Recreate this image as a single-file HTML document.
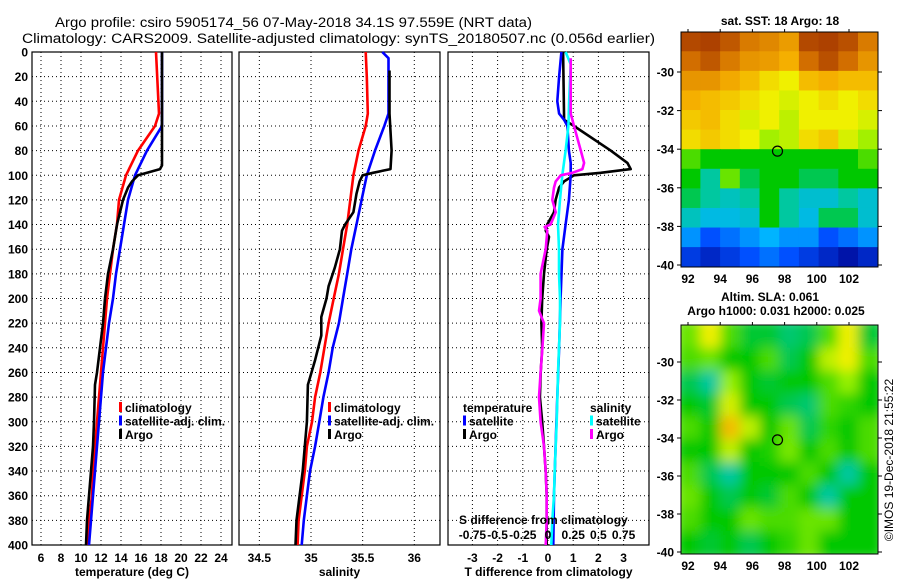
<!DOCTYPE html>
<html><head><meta charset="utf-8"><style>
html,body{margin:0;padding:0;background:#fff;}
svg{display:block;font-family:"Liberation Sans",Arial,sans-serif;}
.tk{font-size:12px;font-weight:bold;fill:#000;}
.ttl{font-size:13.5px;fill:#000;}
</style></head><body>
<svg id="fig" width="900" height="580" viewBox="0 0 900 580" xmlns="http://www.w3.org/2000/svg">
<rect width="900" height="580" fill="#fff"/>
<text class="ttl" x="55" y="27" textLength="477" lengthAdjust="spacingAndGlyphs">Argo profile: csiro 5905174_56 07-May-2018 34.1S 97.559E (NRT data)</text>
<text class="ttl" x="22" y="43" textLength="633" lengthAdjust="spacingAndGlyphs">Climatology: CARS2009. Satellite-adjusted climatology: synTS_20180507.nc (0.056d earlier)</text>
<g id="g"></g>
</svg>
<script>
// ---- data ----
const depthTicks = [0,20,40,60,80,100,120,140,160,180,200,220,240,260,280,300,320,340,360,380,400];
const tempTicks = [6,8,10,12,14,16,18,20,22,24];
const salTicks = [34.5,35,35.5,36];
const diffTTicks = [-3,-2,-1,0,1,2,3];
const diffSLabels = ["-0.75","-0.5","-0.25","0","0.25","0.5","0.75"];

const tClimDepth = [0,50,60,80,100,120,140,160,180,200,220,240,260,280,300,320,340,360,380,400];
const tClimVal   = [17.5,17.8,17.4,15.7,14.5,13.8,13.6,13.2,12.9,12.6,12.4,12.2,12.0,11.8,11.6,11.4,11.2,11.1,10.8,10.7];
const tSatDepth = [0,55,60,80,100,120,140,160,180,200,220,240,260,280,300,320,340,360,380,400];
const tSatVal   = [18.1,18.1,18.1,16.6,15.4,14.7,14.3,13.9,13.5,13.2,12.8,12.5,12.2,12.0,11.8,11.6,11.4,11.2,11.0,10.8];
const tArgoDepth = [0,92,95,98,100,105,110,120,140,160,180,200,220,240,260,270,300,320,340,360,380,400];
const tArgoVal   = [18.1,18.1,17.9,16.6,15.7,15.1,14.7,14.2,13.6,13.2,12.7,12.4,12.2,11.9,11.6,11.4,11.3,11.2,11.0,10.8,10.6,10.5];

const sClimDepth = [0,20,50,60,80,100,120,140,160,180,200,220,240,260,280,300,320,340,360,380,400];
const sClimVal   = [35.53,35.54,35.55,35.53,35.46,35.41,35.38,35.35,35.31,35.27,35.22,35.17,35.13,35.09,35.04,35.01,34.96,34.94,34.91,34.88,34.87];
const sSatDepth = [0,5,50,60,80,100,120,140,160,180,200,220,240,260,280,300,320,340,360,380,400];
const sSatVal   = [35.69,35.75,35.75,35.71,35.62,35.54,35.49,35.44,35.39,35.35,35.31,35.27,35.21,35.17,35.12,35.08,35.04,34.99,34.96,34.93,34.91];
const sArgoDepth = [15,50,80,95,98,100,105,115,130,140,145,160,175,190,200,215,230,250,270,300,320,340,360,380,400];
const sArgoVal   = [35.76,35.76,35.78,35.77,35.60,35.50,35.47,35.44,35.41,35.33,35.30,35.28,35.23,35.17,35.15,35.10,35.10,35.04,34.97,34.96,34.94,34.92,34.89,34.86,34.85];

const dTSatDepth = [0,20,40,50,55,60,80,90,100,120,140,160,200,240,280,320,360,400];
const dTSatVal   = [0.53,0.44,0.37,0.44,0.64,0.77,0.83,0.9,0.9,0.83,0.70,0.57,0.50,0.44,0.37,0.30,0.24,0.21];
const dTArgoDepth = [0,55,60,80,90,95,98,100,105,110,120,130,140,145,150,160,180,200,220,240,260,280,300,320,340,360,380,400];
const dTArgoVal   = [0.6,0.64,1.03,2.49,3.15,3.28,2.09,1.03,0.64,0.44,0.30,0.24,-0.03,-0.09,0.04,-0.05,-0.16,-0.23,-0.26,-0.23,-0.29,-0.32,-0.23,-0.16,-0.09,-0.05,-0.05,-0.05];
const dSSatDepth = [0,10,40,60,80,100,120,140,160,180,200,220,240,260,280,300,320,340,360,380,400];
const dSSatVal   = [0.175,0.225,0.209,0.202,0.175,0.142,0.119,0.099,0.109,0.109,0.119,0.119,0.109,0.099,0.093,0.086,0.076,0.066,0.060,0.043,0.033];
const dSArgoDepth = [5,50,55,60,80,90,95,98,100,105,110,120,130,140,142,145,160,180,200,210,220,240,260,280,300,320,340,360,380,400];
const dSArgoVal   = [0.225,0.225,0.242,0.258,0.325,0.358,0.341,0.242,0.126,0.076,0.060,0.043,0.076,0.026,-0.033,-0.007,-0.023,-0.073,-0.073,-0.089,-0.040,-0.056,-0.073,-0.089,-0.073,-0.040,-0.023,-0.013,-0.013,-0.023];

const latTicks = [-30,-32,-34,-36,-38,-40];
const lonTicks = [92,94,96,98,100,102];
const sstGrid = [
[.97,.98,.95,.9,.88,.85,.97,.98,.96,.9],
[.92,.95,.9,.86,.85,.82,.92,.96,.92,.86],
[.86,.86,.83,.8,.75,.72,.8,.82,.8,.8],
[.82,.8,.78,.75,.72,.7,.72,.75,.72,.75],
[.78,.8,.75,.7,.72,.68,.72,.72,.72,.7],
[.75,.78,.75,.72,.66,.68,.75,.78,.7,.66],
[.6,.55,.55,.55,.55,.55,.55,.55,.55,.6],
[.55,.45,.62,.5,.55,.55,.5,.5,.55,.55],
[.5,.45,.42,.45,.55,.45,.4,.4,.45,.4],
[.42,.38,.38,.4,.55,.45,.38,.5,.5,.4],
[.3,.2,.25,.3,.35,.3,.3,.2,.25,.3],
[.15,.1,.15,.2,.25,.2,.15,.1,.05,.1]];
const slaGrid = [
[.62,.72,.6,.52,.52,.48,.5,.6,.72,.52],
[.6,.62,.55,.55,.6,.5,.55,.68,.72,.6],
[.5,.45,.65,.55,.52,.55,.55,.6,.65,.55],
[.55,.52,.7,.55,.55,.5,.48,.6,.58,.55],
[.6,.55,.8,.68,.55,.62,.5,.58,.55,.6],
[.55,.55,.68,.55,.57,.63,.55,.6,.55,.6],
[.6,.5,.45,.55,.55,.55,.6,.55,.45,.55],
[.62,.55,.5,.55,.52,.6,.55,.45,.55,.55],
[.6,.55,.55,.62,.6,.6,.62,.62,.55,.55],
[.55,.52,.55,.5,.55,.58,.62,.55,.55,.55]];
const argoLon = 97.559, argoLat = -34.1;

// ---- helpers ----
const NS = "http://www.w3.org/2000/svg";
const G = document.getElementById('g');
function mk(tag, attrs, parent){ const e=document.createElementNS(NS,tag); for(const k in attrs) e.setAttribute(k,attrs[k]); (parent||G).appendChild(e); return e; }
const Y0=52, Y1=545;
const yD = d => Y0 + d/400*(Y1-Y0);

function panel(name, x0, x1, xs, ticks, labels, xtitle){
  const g = mk('g',{});
  
  
  depthTicks.forEach(d=>{ if(d>0&&d<400) mk('line',{x1:x0,x2:x1,y1:yD(d),y2:yD(d),stroke:'#000','stroke-width':1,'stroke-dasharray':'1,3'},g); });
  ticks.forEach(t=>{ const x=xs(t); mk('line',{x1:x,x2:x,y1:Y0,y2:Y1,stroke:'#000','stroke-width':1,'stroke-dasharray':'1,3'},g);
    const tl=mk('text',{x:x,y:562,'text-anchor':'middle','class':'tk'},g); tl.textContent=labels?labels(t):t;
    
     });
  mk('rect',{x:x0,y:Y0,width:x1-x0,height:Y1-Y0,fill:'none',stroke:'#000','stroke-width':1.2},g);
  const tt=mk('text',{x:(x0+x1)/2,y:576,'text-anchor':'middle','class':'tk'},g); tt.textContent=xtitle;
  
  
  return g;
}
function series(name, depths, vals, xs, color, g){
  const pts = depths.map((d,i)=> xs(vals[i]).toFixed(1)+','+yD(d).toFixed(1)).join(' ');
  const p = mk('polyline',{points:pts,fill:'none',stroke:color,'stroke-width':2.6,'stroke-linejoin':'round'},g);
  
  
}
function legend(items, x, y0, g){
  items.forEach((it,i)=>{ const y=y0+i*13.5;
    if(it.c) mk('rect',{x:x,y:y-6,width:3,height:10,fill:it.c},g);
    const t=mk('text',{x:x+(it.c?6:0),y:y+4,'class':'tk'},g); t.textContent=it.t;
    
     });
}

// depth axis labels
depthTicks.forEach(d=>{ const t=mk('text',{x:28,y:yD(d)+4.5,'text-anchor':'end','class':'tk'}); t.textContent=d;
  
   });

// panel 1 temperature
const xT = v => 41 + (v-6)*10;
const p1 = panel('temperature-panel', 32, 232, xT, tempTicks, null, 'temperature (deg C)');
series('temp-climatology-line', tClimDepth, tClimVal, xT, '#f00', p1);
series('temp-satellite-line', tSatDepth, tSatVal, xT, '#00f', p1);
series('temp-argo-line', tArgoDepth, tArgoVal, xT, '#000', p1);
legend([{t:'climatology',c:'#f00'},{t:'satellite-adj. clim.',c:'#00f'},{t:'Argo',c:'#000'}], 119, 408, p1);

// panel 2 salinity
const xS = v => 311 + (v-35)*103.3;
const p2 = panel('salinity-panel', 239, 440, xS, salTicks, null, 'salinity');
series('sal-climatology-line', sClimDepth, sClimVal, xS, '#f00', p2);
series('sal-satellite-line', sSatDepth, sSatVal, xS, '#00f', p2);
series('sal-argo-line', sArgoDepth, sArgoVal, xS, '#000', p2);
legend([{t:'climatology',c:'#f00'},{t:'satellite-adj. clim.',c:'#00f'},{t:'Argo',c:'#000'}], 328, 408, p2);

// panel 3 differences
const xDT = v => 548 + v*25.2;
const xDS = v => 548 + v*4*25.2;
const p3 = panel('difference-panel', 448, 649, xDT, diffTTicks, null, 'T difference from climatology');
series('dtemp-argo-line', dTArgoDepth, dTArgoVal, xDT, '#000', p3);
series('dtemp-satellite-line', dTSatDepth, dTSatVal, xDT, '#00f', p3);
series('dsal-satellite-line', dSSatDepth, dSSatVal, xDS, '#0ff', p3);
series('dsal-argo-line', dSArgoDepth, dSArgoVal, xDS, '#f0f', p3);
legend([{t:'temperature'},{t:'satellite',c:'#00f'},{t:'Argo',c:'#000'}], 463, 408, p3);
legend([{t:'salinity'},{t:'satellite',c:'#0ff'},{t:'Argo',c:'#f0f'}], 590, 408, p3);
const sdt = mk('text',{x:459,y:524,'class':'tk'},p3); sdt.textContent='S difference from climatology';


diffTTicks.forEach((t,i)=>{ const l=mk('text',{x:xDT(t),y:539,'text-anchor':'middle','class':'tk'},p3); l.textContent=diffSLabels[i];
  
   });

// colormap
const cstops = [[0,[0,0,140]],[0.2,[0,80,255]],[0.35,[0,180,255]],[0.45,[0,200,160]],[0.55,[0,200,0]],[0.65,[150,240,0]],[0.72,[240,240,0]],[0.82,[245,175,0]],[0.92,[210,110,0]],[1,[160,50,0]]];
function cmap(v){ for(let i=1;i<cstops.length;i++){ if(v<=cstops[i][0]){ const a=cstops[i-1],b=cstops[i],f=(v-a[0])/(b[0]-a[0]); const c=a[1].map((x,k)=>Math.round(x+(b[1][k]-x)*f)); return 'rgb('+c.join(',')+')'; } } return 'rgb(160,50,0)'; }

function map(name, grid, x0, x1, yTop, yBot, latY, latS, blur){
  const g = mk('g',{});
  
  
  const cid = name+'-clip';
  const cp = mk('clipPath',{id:cid},g); mk('rect',{x:x0,y:yTop,width:x1-x0,height:yBot-yTop},cp);
  const inner = mk('g',{'clip-path':'url(#'+cid+')'},g);
  const img = mk('g',blur?{filter:'url(#blur)'}:{},inner);
  const rows=grid.length, cols=grid[0].length, cw=(x1-x0)/cols, ch=(yBot-yTop)/rows;
  grid.forEach((row,r)=>row.forEach((v,c)=>{ const cell=mk('rect',{x:x0+c*cw-0.3-(blur?6*(c==0):0),y:yTop+r*ch-0.3-(blur?6*(r==0):0),width:cw+0.6+(blur?6*(c==0||c==cols-1):0),height:ch+0.6+(blur?6*(r==0||r==rows-1):0),fill:cmap(v)},img);
    
     }));
  const lonX = l => 688 + (l-92)*16.1;
  const latYf = l => latY + (-30-l)*latS;
  mk('circle',{cx:lonX(argoLon),cy:latYf(argoLat),r:5,fill:'none',stroke:'#000','stroke-width':1.2},g);
  mk('rect',{x:x0,y:yTop,width:x1-x0,height:yBot-yTop,fill:'none',stroke:'#000','stroke-width':1},g);
  latTicks.forEach(l=>{ const y=latYf(l); mk('line',{x1:x1,x2:x1+4,y1:y,y2:y,stroke:'#000'},g); mk('line',{x1:x0-4,x2:x0,y1:y,y2:y,stroke:'#000'},g);
    const t=mk('text',{x:674,y:y+4.5,'text-anchor':'end','class':'tk'},g); t.textContent=l;
    
     });
  lonTicks.forEach(l=>{ const x=lonX(l); mk('line',{x1:x,x2:x,y1:yTop-3,y2:yTop,stroke:'#000'},g);
    const t=mk('text',{x:x,y:yBot+16,'text-anchor':'middle','class':'tk'},g); t.textContent=l;
    
     });
}
const defs = mk('defs',{}); const flt = mk('filter',{id:'blur',x:'-5%',y:'-5%',width:'110%',height:'110%'},defs); mk('feGaussianBlur',{stdDeviation:6},flt);
map('sst-map', sstGrid, 681, 878, 32, 267, 72, 19.3, false);
map('sla-map', slaGrid, 681, 878, 325, 554, 362, 19.0, true);

function txt(name,x,y,s,anchor){ const t=mk('text',{x:x,y:y,'text-anchor':anchor||'middle','class':'tk'}); t.textContent=s;
  
   return t; }
txt('sst-map-title',780,25,'sat. SST: 18 Argo: 18');
txt('sla-map-title-1',770,301,'Altim. SLA: 0.061');
txt('sla-map-title-2',776,315,'Argo h1000: 0.031 h2000: 0.025');
const cr = mk('text',{x:0,y:0,'text-anchor':'middle','font-size':'12px',transform:'translate(893,460) rotate(-90)'});
cr.textContent='©IMOS 19-Dec-2018 21:55:22';


</script>
</body></html>
